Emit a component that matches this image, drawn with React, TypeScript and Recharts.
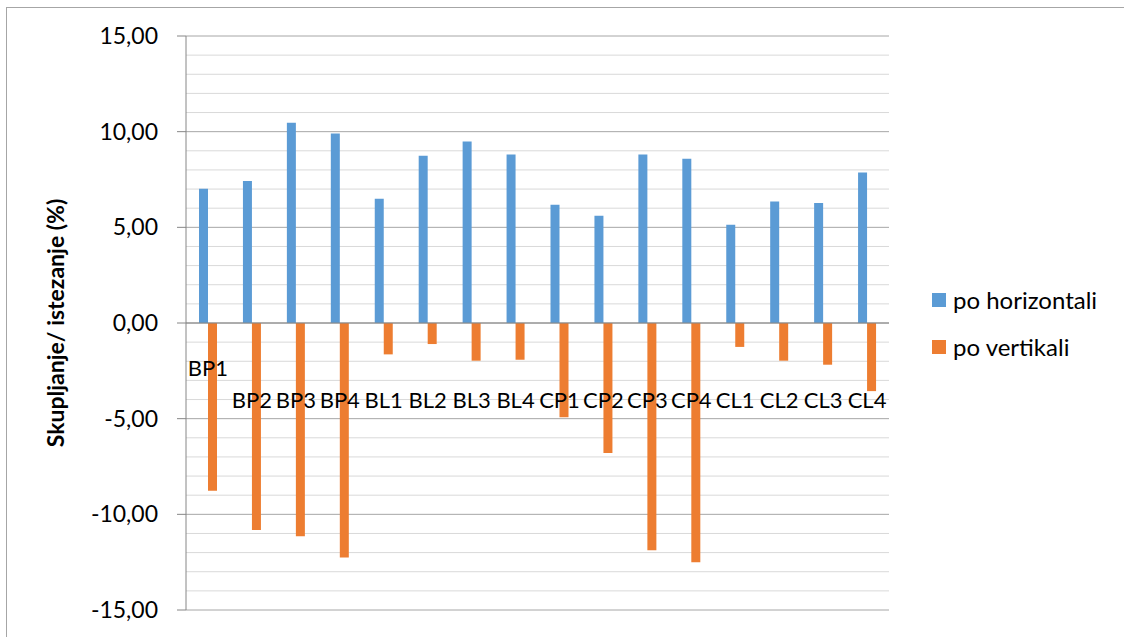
import {
  Bar,
  BarChart,
  CartesianGrid,
  Legend,
  ReferenceLine,
  XAxis,
  YAxis,
} from "recharts";

const categories = [
  "BP1", "BP2", "BP3", "BP4",
  "BL1", "BL2", "BL3", "BL4",
  "CP1", "CP2", "CP3", "CP4",
  "CL1", "CL2", "CL3", "CL4",
];

const horizontal = [
  7.02, 7.42, 10.47, 9.9,
  6.5, 8.74, 9.48, 8.81,
  6.18, 5.6, 8.81, 8.59,
  5.13, 6.35, 6.27, 7.87,
];

const vertical = [
  -8.77, -10.82, -11.15, -12.25,
  -1.64, -1.1, -1.97, -1.92,
  -4.93, -6.8, -11.88, -12.5,
  -1.25, -1.97, -2.18, -3.56,
];

const yTicks = [-15, -10, -5, 0, 5, 10, 15];
const minorTicks = [
  -14, -13, -12, -11, -9, -8, -7, -6, -4, -3, -2, -1,
  1, 2, 3, 4, 6, 7, 8, 9, 11, 12, 13, 14,
];

const seriesNames = ["po horizontali", "po vertikali"];
const colors = ["#5b9bd5", "#ed7d31"];

const data = categories.map((name, i) => ({
  name,
  horiz: horizontal[i],
  vert: vertical[i],
}));

const FONT = "Lato, 'Open Sans', sans-serif";

const fmt = (v: number) => v.toFixed(2).replace(".", ",");

// minor grid rows go through the y axis scale
const minorRows = ({ yAxis }: any) => {
  const s = yAxis?.scale;
  if (!s) return [];
  const map = typeof s === "function" ? s : (v: number) => s.map(v);
  return minorTicks.map((v) => map(v));
};

// category names sit across the lower half; the first one is pushed up a line
function CategoryTick(props: any) {
  const { x, y, payload, index } = props;
  const lift = index === 0 ? 243 : 211;
  return (
    <text
      x={x}
      y={y - lift}
      textAnchor="middle"
      dominantBaseline="central"
      fontFamily={FONT}
      fontSize={22}
      fill="#000"
    >
      {payload.value}
    </text>
  );
}

function LegendBox() {
  return (
    <div style={{ fontFamily: FONT, fontSize: 24, color: "#000" }}>
      {seriesNames.map((n, i) => (
        <div
          key={n}
          style={{ display: "flex", alignItems: "center", height: 47 }}
        >
          <span
            style={{
              width: 14,
              height: 14,
              background: colors[i],
              marginRight: 7,
              display: "inline-block",
            }}
          />
          {n}
        </div>
      ))}
    </div>
  );
}

export default function App() {
  return (
    <div
      style={{
        position: "fixed",
        left: 0,
        top: 0,
        width: 1124,
        height: 637,
        background: "#fff",
        overflow: "hidden",
      }}
    >
      <div
        style={{
          position: "absolute",
          left: 6,
          top: 7,
          width: 1140,
          height: 660,
          border: "1px solid #a6a6a6",
        }}
      />
      <div style={{ position: "absolute", left: 0, top: 0 }}>
        <BarChart
          width={1124}
          height={637}
          data={data}
          margin={{ top: 36, right: 235, bottom: 0, left: 0 }}
          barSize={9}
          barGap={0}
        >
          <CartesianGrid
            vertical={false}
            stroke="#d9d9d9"
            horizontalCoordinatesGenerator={minorRows}
          />
          <CartesianGrid vertical={false} stroke="#a6a6a6" />
          <XAxis
            dataKey="name"
            axisLine={false}
            tickLine={false}
            tickSize={0}
            tickMargin={0}
            height={27}
            interval={0}
            tick={<CategoryTick />}
          />
          <YAxis
            domain={[-15, 15]}
            ticks={yTicks}
            tickFormatter={fmt}
            width={186}
            tickSize={9}
            tickMargin={19}
            stroke="#868686"
            tick={{ fill: "#000", fontSize: 23, fontFamily: FONT }}
            label={{
              value: "Skupljanje/ istezanje (%)",
              angle: -90,
              position: "insideLeft",
              offset: 56,
              style: {
                textAnchor: "middle",
                fontFamily: FONT,
                fontSize: 23,
                fontWeight: 700,
                fill: "#000",
              },
            }}
          />
          <ReferenceLine y={0} stroke="#868686" />
          <Bar
            dataKey="horiz"
            name={seriesNames[0]}
            fill={colors[0]}
            isAnimationActive={false}
          />
          <Bar
            dataKey="vert"
            name={seriesNames[1]}
            fill={colors[1]}
            isAnimationActive={false}
          />
          <Legend
            layout="horizontal"
            verticalAlign="middle"
            align="center"
            content={<LegendBox />}
            wrapperStyle={{ position: "absolute", left: 932, top: 276, width: 190 }}
          />
        </BarChart>
      </div>
    </div>
  );
}
